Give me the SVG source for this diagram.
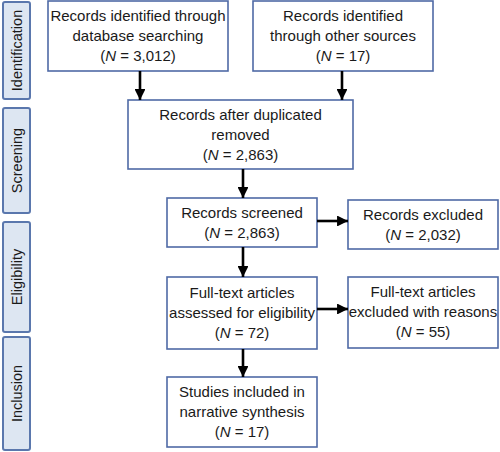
<svg xmlns="http://www.w3.org/2000/svg" width="500" height="452" viewBox="0 0 500 452">
<style>
.box{fill:#ffffff;stroke:#4f6aa6;stroke-width:1.6}
.side{fill:#dde6f2;stroke:#5a77ad;stroke-width:2}
.t{font-family:"Liberation Sans",Arial,sans-serif;font-size:15px;fill:#1a1a1a;text-anchor:middle}
.s{font-family:"Liberation Sans",Arial,sans-serif;font-size:14.5px;fill:#1a1a1a;text-anchor:middle}
.c{stroke:#000;stroke-width:2.6;fill:none;marker-end:url(#ah)}
</style>
<defs>
<marker id="ah" viewBox="0 0 10 10" refX="10" refY="5" markerWidth="4.2" markerHeight="4.2" markerUnits="strokeWidth" orient="auto">
<path d="M0,0 L10,5 L0,10 z" fill="#000"/>
</marker>
</defs>
<rect width="500" height="452" fill="#fff"/>
<g id="side-identification"><rect class="side" x="3" y="2" width="27" height="97" rx="2"/><text class="s" transform="translate(21.5,50.5) rotate(-90)">Identification</text></g>
<g id="side-screening"><rect class="side" x="3" y="108" width="27" height="105" rx="2"/><text class="s" transform="translate(21.5,160.5) rotate(-90)">Screening</text></g>
<g id="side-eligibility"><rect class="side" x="3" y="222" width="27" height="110" rx="2"/><text class="s" transform="translate(21.5,277) rotate(-90)">Eligibility</text></g>
<g id="side-inclusion"><rect class="side" x="3" y="337" width="27" height="113" rx="2"/><text class="s" transform="translate(21.5,393.5) rotate(-90)">Inclusion</text></g>

<g id="n1"><rect class="box" x="48" y="1" width="180" height="70"/>
<text class="t" x="138" y="21">Records identified through</text>
<text class="t" x="138" y="41">database searching</text>
<text class="t" x="138" y="61">(<tspan font-style="italic">N</tspan> = 3,012)</text></g>

<g id="n2"><rect class="box" x="253" y="1" width="180" height="70"/>
<text class="t" x="343" y="21">Records identified</text>
<text class="t" x="343" y="41">through other sources</text>
<text class="t" x="343" y="61">(<tspan font-style="italic">N</tspan> = 17)</text></g>

<g id="n3"><rect class="box" x="128" y="100" width="225" height="69"/>
<text class="t" x="240.5" y="120">Records after duplicated</text>
<text class="t" x="240.5" y="140">removed</text>
<text class="t" x="240.5" y="160">(<tspan font-style="italic">N</tspan> = 2,863)</text></g>

<g id="n4"><rect class="box" x="167" y="198" width="150" height="49"/>
<text class="t" x="242" y="218">Records screened</text>
<text class="t" x="242" y="238">(<tspan font-style="italic">N</tspan> = 2,863)</text></g>

<g id="n5"><rect class="box" x="348" y="200" width="150" height="49"/>
<text class="t" x="423" y="220">Records excluded</text>
<text class="t" x="423" y="240">(<tspan font-style="italic">N</tspan> = 2,032)</text></g>

<g id="n6"><rect class="box" x="167" y="277" width="150" height="72"/>
<text class="t" x="242" y="298">Full-text articles</text>
<text class="t" x="242" y="318">assessed for eligibility</text>
<text class="t" x="242" y="338">(<tspan font-style="italic">N</tspan> = 72)</text></g>

<g id="n7"><rect class="box" x="348" y="277" width="150" height="71"/>
<text class="t" x="423" y="297">Full-text articles</text>
<text class="t" x="423" y="317">excluded with reasons</text>
<text class="t" x="423" y="337">(<tspan font-style="italic">N</tspan> = 55)</text></g>

<g id="n8"><rect class="box" x="167" y="377" width="150" height="70"/>
<text class="t" x="242" y="397">Studies included in</text>
<text class="t" x="242" y="417">narrative synthesis</text>
<text class="t" x="242" y="437">(<tspan font-style="italic">N</tspan> = 17)</text></g>

<g id="connectors">
<line class="c" x1="140" y1="71" x2="140" y2="100"/>
<line class="c" x1="342" y1="71" x2="342" y2="100"/>
<line class="c" x1="243" y1="169" x2="243" y2="198"/>
<line class="c" x1="317" y1="221" x2="348" y2="221"/>
<line class="c" x1="243" y1="247" x2="243" y2="277"/>
<line class="c" x1="317" y1="309" x2="348" y2="309"/>
<line class="c" x1="243" y1="349" x2="243" y2="377"/>
</g>
</svg>
